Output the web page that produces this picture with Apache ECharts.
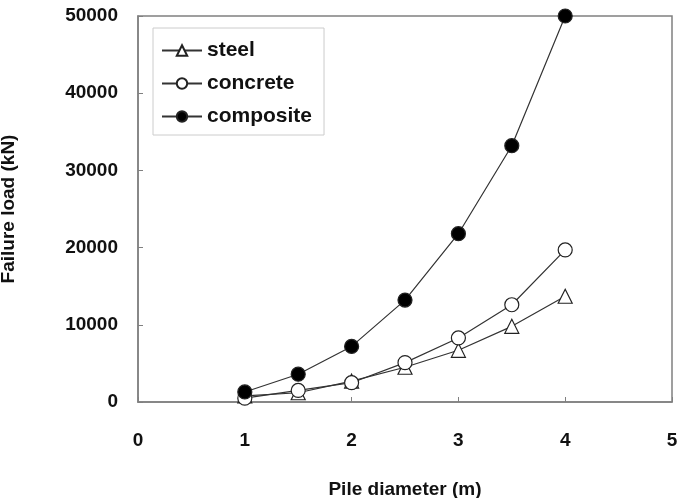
<!DOCTYPE html>
<html>
<head>
<meta charset="utf-8">
<script src="https://cdn.jsdelivr.net/npm/echarts@6/dist/echarts.min.js"></script>
<style>
html,body{margin:0;padding:0;background:#fff;}
#chart{width:685px;height:498px;}
</style>
</head>
<body>
<div id="chart"></div>
<script>
// pile diameter (m)
const diameters = [1, 1.5, 2, 2.5, 3, 3.5, 4];
// failure load (kN)
const steel = [800, 1200, 2700, 4500, 6700, 9800, 13700];
const concrete = [500, 1500, 2500, 5100, 8300, 12600, 19700];
const composite = [1300, 3600, 7200, 13200, 21800, 33200, 50000];

function pairs(vals){
    return diameters.map(function(d, i){ return [d, vals[i]]; });
}

const FONT = 'Liberation Sans, Arial, sans-serif';
let chart = echarts.init(document.getElementById('chart'));

function lineSeries(name, vals, symbol, fill, size){
    return {
        name: name,
        type: 'line',
        data: pairs(vals),
        symbol: symbol,
        symbolSize: size,
        showAllSymbol: true,
        lineStyle: { color: '#333', width: 1.2 },
        itemStyle: { color: fill, borderColor: '#222', borderWidth: 1.2 },
        emphasis: { disabled: true },
        animation: false
    };
}

chart.setOption({
    backgroundColor: '#fff',
    grid: {
        left: 138, right: 13, top: 16, bottom: 96,
        outerBoundsMode: 'none', containLabel: false,
        show: true, borderColor: '#808080', borderWidth: 1.5
    },
    legend: {
        left: 153, top: 28,
        orient: 'vertical',
        padding: [12, 12, 8, 8],
        itemGap: 12,
        itemWidth: 40, itemHeight: 13,
        borderColor: '#cccccc', borderWidth: 1,
        textStyle: { fontFamily: FONT, fontSize: 21, fontWeight: 'bold', color: '#111' },
        data: ['steel', 'concrete', 'composite']
    },
    xAxis: {
        type: 'value', min: 0, max: 5, interval: 1,
        name: 'Pile diameter (m)', nameLocation: 'middle', nameGap: 78,
        nameTextStyle: { fontFamily: FONT, fontSize: 19, fontWeight: 'bold', color: '#111' },
        axisLine: { lineStyle: { color: '#808080', width: 1.5 } },
        axisTick: { inside: true, length: 5, lineStyle: { color: '#808080' } },
        axisLabel: { margin: 29, fontFamily: FONT, fontSize: 19, fontWeight: 'bold', color: '#111' },
        splitLine: { show: false }
    },
    yAxis: {
        type: 'value', min: 0, max: 50000, interval: 10000,
        name: 'Failure load (kN)', nameLocation: 'middle', nameGap: 120,
        nameTextStyle: { fontFamily: FONT, fontSize: 19, fontWeight: 'bold', color: '#111' },
        axisLine: { show: true, lineStyle: { color: '#808080', width: 1.5 } },
        axisTick: { show: true, inside: true, length: 5, lineStyle: { color: '#808080' } },
        axisLabel: {
            margin: 20, fontFamily: FONT, fontSize: 19, fontWeight: 'bold', color: '#111',
            formatter: function(v){ return String(v); }
        },
        splitLine: { show: false }
    },
    series: [
        lineSeries('steel', steel, 'triangle', '#fff', 14),
        lineSeries('concrete', concrete, 'circle', '#fff', 14),
        lineSeries('composite', composite, 'circle', '#000', 14)
    ]
});
</script>
</body>
</html>
